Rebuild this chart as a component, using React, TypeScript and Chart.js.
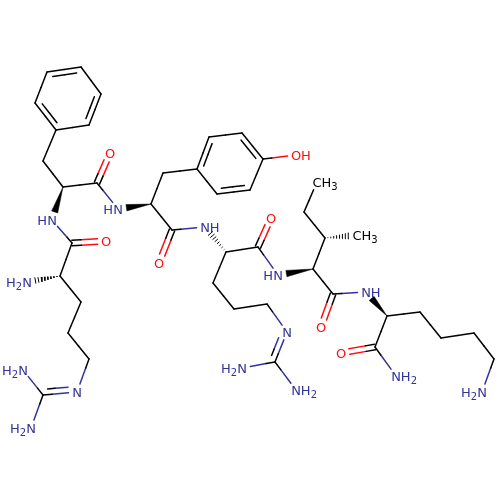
import { useEffect, useRef } from 'react';
import { Chart, registerables } from 'chart.js';

Chart.register(...registerables);

// atoms (x to the right, y downwards)
const atomX = [47, 81, 101, 89, 56, 35, 43, 63, 97, 110, 52, 72, 106, 60, 27, 81, 68, 89, 77, 43, 23, 31, 118, 151, 163, 197, 209, 242, 263, 250, 217, 296, 172, 159, 205, 226, 213, 234, 267, 287, 275, 242, 296, 258, 271, 278, 313, 333, 321, 325, 304, 317, 357, 366, 387, 420, 441, 474, 494, 482, 375, 341, 396];
const atomY = [72, 67, 94, 125, 130, 103, 161, 187, 183, 153, 220, 243, 241, 276, 282, 302, 333, 359, 392, 395, 370, 428, 209, 204, 173, 169, 137, 133, 159, 190, 194, 155, 230, 263, 227, 252, 283, 309, 304, 332, 362, 368, 390, 247, 218, 275, 269, 294, 327, 238, 212, 182, 235, 292, 316, 312, 338, 333, 359, 392, 347, 353, 376];
const atomLabels: Record<number, string> = {
  9: 'O', 10: 'HN', 12: 'O', 14: 'H2N', 18: 'N', 20: 'H2N', 21: 'H2N', 22: 'HN', 31: 'OH', 33: 'O', 34: 'NH',
  39: 'N', 41: 'H2N', 42: 'NH2', 44: 'O', 45: 'HN', 48: 'O', 51: 'CH3', 52: 'CH3', 53: 'NH', 59: 'H2N', 61: 'O', 62: 'NH2',
};

const singleBonds = [
  [1, 2], [3, 4], [5, 0], [4, 6], [6, 7], [7, 8], [8, 22], [10, 11], [11, 13], [13, 15], [15, 16], [16, 17], [17, 18],
  [19, 20], [19, 21], [23, 24], [24, 25], [26, 27], [28, 29], [30, 25], [28, 31], [23, 32], [32, 34], [35, 36], [36, 37],
  [37, 38], [38, 39], [40, 41], [40, 42], [35, 43], [43, 45], [46, 47], [46, 49], [49, 50], [50, 51], [47, 53], [54, 55],
  [55, 56], [56, 57], [57, 58], [58, 59], [54, 60], [60, 62],
];
// inner ring line goes towards the ring centre
const ringDoubleBonds = [[0, 1], [2, 3], [4, 5], [25, 26], [27, 28], [29, 30]];
const ringCentres = [[68, 99], [68, 99], [68, 99], [230, 163], [230, 163], [230, 163]];
const carbonylBonds = [[8, 9], [11, 12], [32, 33], [43, 44], [47, 48], [60, 61]];
const imineBonds = [[19, 18], [40, 39]];
const wedgeBonds = [[7, 10], [23, 22], [46, 45], [54, 53]];
const hashBonds = [[13, 14], [35, 34], [49, 52]];

const NITROGEN = '#333399';
const OXYGEN = '#ff0d0d';
const BLACK = '#000000';

function atomColor(i: number) {
  const label = atomLabels[i];
  if (!label) return BLACK;
  if (label.includes('N')) return NITROGEN;
  if (label.includes('O')) return OXYGEN;
  return BLACK;
}

const trim = (i: number) => (atomLabels[i] ? 8.5 : 0);

function line(a: number[], b: number[], color: string) {
  return {
    type: 'scatter' as const,
    data: [{ x: a[0], y: a[1] }, { x: b[0], y: b[1] }],
    showLine: true,
    borderColor: color,
    borderWidth: 1.5,
    pointRadius: 0,
    borderCapStyle: 'round' as const,
  };
}

function bondLines(i: number, j: number, offX = 0, offY = 0, t0 = 0, t1 = 1) {
  const dx = atomX[j] - atomX[i];
  const dy = atomY[j] - atomY[i];
  const len = Math.hypot(dx, dy);
  const s = Math.max(trim(i) / len, t0);
  const e = Math.min(1 - trim(j) / len, t1);
  // the colour change sits nearer the carbon end
  const ci = atomColor(i);
  const cj = atomColor(j);
  const share = ci === cj ? 0.5 : ci === BLACK ? 0.36 : 0.64;
  const m = s + (e - s) * share;
  const at = (t: number) => [atomX[i] + dx * t + offX, atomY[i] + dy * t + offY];
  return [line(at(s), at(m), ci), line(at(m), at(e), cj)];
}

function buildDatasets() {
  const sets: any[] = [];
  singleBonds.forEach(([i, j]) => sets.push(...bondLines(i, j)));

  ringDoubleBonds.forEach(([i, j], k) => {
    sets.push(...bondLines(i, j));
    const dx = atomX[j] - atomX[i];
    const dy = atomY[j] - atomY[i];
    const len = Math.hypot(dx, dy);
    let nx = -dy / len;
    let ny = dx / len;
    const mx = (atomX[i] + atomX[j]) / 2;
    const my = (atomY[i] + atomY[j]) / 2;
    if ((ringCentres[k][0] - mx) * nx + (ringCentres[k][1] - my) * ny < 0) {
      nx = -nx;
      ny = -ny;
    }
    sets.push(...bondLines(i, j, nx * 5.2, ny * 5.2, 0.15, 0.85));
  });

  carbonylBonds.forEach(([i, j]) => {
    const dx = atomX[j] - atomX[i];
    const dy = atomY[j] - atomY[i];
    const len = Math.hypot(dx, dy);
    const nx = -dy / len;
    const ny = dx / len;
    sets.push(...bondLines(i, j, nx * 2.8, ny * 2.8));
    sets.push(...bondLines(i, j, -nx * 2.8, -ny * 2.8));
  });

  imineBonds.forEach(([i, j]) => {
    sets.push(...bondLines(i, j));
    const dx = atomX[j] - atomX[i];
    const dy = atomY[j] - atomY[i];
    const len = Math.hypot(dx, dy);
    sets.push(...bondLines(i, j, (dy / len) * 5.6, (-dx / len) * 5.6, 0.15, 1));
  });

  wedgeBonds.forEach(([i, j]) => {
    const dx = atomX[j] - atomX[i];
    const dy = atomY[j] - atomY[i];
    const len = Math.hypot(dx, dy);
    const e = 1 - trim(j) / len;
    const nx = -dy / len;
    const ny = dx / len;
    const ex = atomX[i] + dx * e;
    const ey = atomY[i] + dy * e;
    sets.push({
      type: 'scatter' as const,
      data: [
        { x: atomX[i], y: atomY[i] },
        { x: ex + nx * 3.2, y: ey + ny * 3.2 },
        { x: ex - nx * 3.2, y: ey - ny * 3.2 },
        { x: atomX[i], y: atomY[i] },
      ],
      showLine: true,
      fill: 'shape',
      backgroundColor: BLACK,
      borderColor: BLACK,
      borderWidth: 0.5,
      pointRadius: 0,
    });
  });

  hashBonds.forEach(([i, j]) => {
    const dx = atomX[j] - atomX[i];
    const dy = atomY[j] - atomY[i];
    const len = Math.hypot(dx, dy);
    const nx = -dy / len;
    const ny = dx / len;
    const e = 1 - trim(j) / len;
    const strokes = 8;
    for (let k = 1; k <= strokes; k++) {
      const t = (e * k) / strokes;
      const cx = atomX[i] + dx * t;
      const cy = atomY[i] + dy * t;
      const w = 3.2 * (k / strokes);
      sets.push({ ...line([cx + nx * w, cy + ny * w], [cx - nx * w, cy - ny * w], BLACK), borderWidth: 1, borderCapStyle: 'butt' });
    }
  });
  return sets;
}

const atomLabelPlugin = {
  id: 'atomLabels',
  afterDatasetsDraw(chart: any) {
    const { ctx, scales } = chart;
    ctx.save();
    ctx.textBaseline = 'alphabetic';
    ctx.textAlign = 'left';
    Object.keys(atomLabels).forEach((key) => {
      const i = Number(key);
      const label = atomLabels[i];
      const parts = label.split('').map((ch) => ({ ch, sub: /\d/.test(ch) }));
      const fontOf = (sub: boolean) => (sub ? '10px "DejaVu Sans"' : '13px "DejaVu Sans"');
      const widths = parts.map((p) => {
        ctx.font = fontOf(p.sub);
        return ctx.measureText(p.ch).width;
      });
      // the heavy atom sits on the anchor: first glyph, or last one for H2N and HN
      const anchorLast = label[0] === 'H';
      const anchor = anchorLast ? parts.length - 1 : 0;
      let x = scales.x.getPixelForValue(atomX[i]) - widths[anchor] / 2;
      for (let k = 0; k < anchor; k++) x -= widths[k];
      const y = scales.y.getPixelForValue(atomY[i]) + 5;
      ctx.fillStyle = atomColor(i);
      parts.forEach((p, k) => {
        ctx.font = fontOf(p.sub);
        ctx.fillText(p.ch, x, p.sub ? y + 3 : y);
        x += widths[k];
      });
    });
    ctx.restore();
  },
};

export default function App() {
  const canvasRef = useRef<HTMLCanvasElement | null>(null);

  useEffect(() => {
    if (!canvasRef.current) return;
    const chart = new Chart(canvasRef.current, {
      type: 'scatter',
      data: { datasets: buildDatasets() },
      options: {
        animation: false,
        responsive: false,
        devicePixelRatio: 1,
        layout: { padding: 0 },
        plugins: { legend: { display: false }, tooltip: { enabled: false } },
        scales: {
          x: { type: 'linear', display: false, min: 0, max: 500 },
          y: { type: 'linear', display: false, min: 0, max: 500, reverse: true },
        },
      },
      plugins: [atomLabelPlugin],
    } as any);
    return () => chart.destroy();
  }, []);

  return (
    <div style={{ position: 'absolute', left: 0, top: 0, width: 500, height: 500, background: '#fff' }}>
      <canvas ref={canvasRef} width={500} height={500} />
    </div>
  );
}
